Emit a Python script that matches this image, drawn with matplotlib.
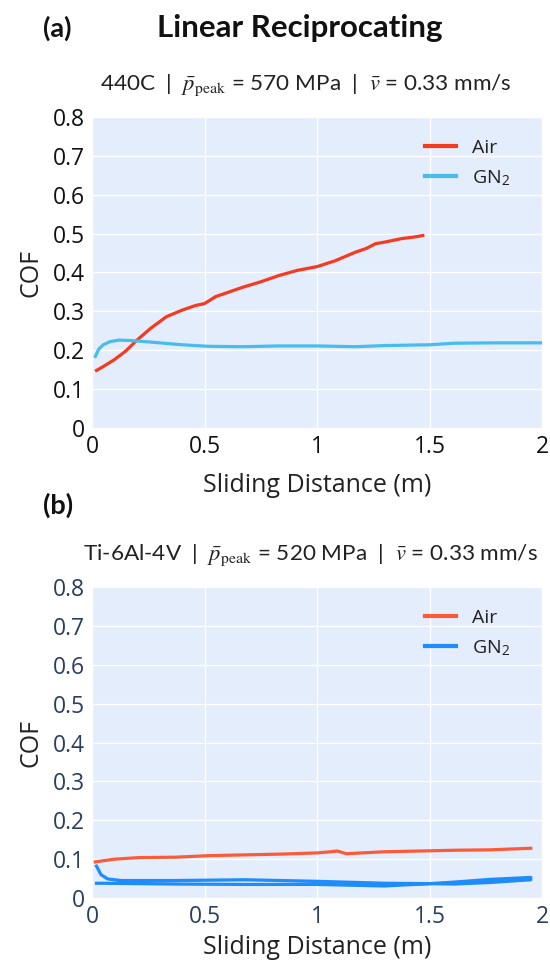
import matplotlib
matplotlib.use('Agg')
import matplotlib.pyplot as plt

plt.rcParams['font.family'] = ['Open Sans', 'DejaVu Sans']
plt.rcParams['mathtext.fontset'] = 'stix'

# ---- data ----
# (a) 440C
a_air_x = [0.02, 0.05, 0.10, 0.15, 0.20, 0.26, 0.33, 0.40, 0.46, 0.50, 0.55, 0.61, 0.67,
           0.75, 0.83, 0.91, 1.00, 1.08, 1.17, 1.22, 1.26, 1.30, 1.375, 1.43, 1.47]
a_air_y = [0.148, 0.158, 0.176, 0.198, 0.226, 0.256, 0.286, 0.303, 0.315, 0.320, 0.338, 0.350, 0.362,
           0.376, 0.392, 0.405, 0.415, 0.430, 0.452, 0.462, 0.474, 0.478, 0.487, 0.491, 0.495]
a_gn2_x = [0.015, 0.03, 0.05, 0.08, 0.12, 0.17, 0.28, 0.40, 0.52, 0.67, 0.83, 1.00, 1.17,
           1.30, 1.50, 1.61, 1.80, 2.00]
a_gn2_y = [0.184, 0.203, 0.214, 0.222, 0.226, 0.225, 0.220, 0.214, 0.210, 0.209, 0.211, 0.211, 0.209,
           0.212, 0.214, 0.218, 0.219, 0.219]

# (b) Ti-6Al-4V  (GN2 trace runs out to ~1.95 m and back)
b_air_x = [0.015, 0.10, 0.21, 0.37, 0.52, 0.68, 0.84, 1.00, 1.06, 1.09, 1.13, 1.30, 1.46,
           1.62, 1.77, 1.95]
b_air_y = [0.093, 0.100, 0.104, 0.105, 0.109, 0.111, 0.113, 0.116, 0.119, 0.121, 0.114, 0.119, 0.121,
           0.123, 0.124, 0.128]
b_gn2_x = [0.02, 0.04, 0.07, 0.13, 0.37, 0.68, 1.00, 1.30, 1.50, 1.61, 1.77, 1.95,
           1.95, 1.77, 1.61, 1.50, 1.30, 1.00, 0.68, 0.37, 0.05, 0.02]
b_gn2_y = [0.082, 0.060, 0.049, 0.045, 0.045, 0.047, 0.043, 0.038, 0.037, 0.041, 0.048, 0.053,
           0.047, 0.040, 0.036, 0.037, 0.031, 0.035, 0.035, 0.036, 0.038, 0.038]

x_ticks = [0, 0.5, 1, 1.5, 2]
x_tick_labels = ['0', '0.5', '1', '1.5', '2']
y_ticks = [0, 0.1, 0.2, 0.3, 0.4, 0.5, 0.6, 0.7, 0.8]
y_tick_labels = ['0', '0.1', '0.2', '0.3', '0.4', '0.5', '0.6', '0.7', '0.8']

panels = [
    dict(title=r'440C  |  $\bar{p}_{\mathrm{peak}}$ = 570 MPa  |  $\bar{v}$ = 0.33 mm/s',
         air=(a_air_x, a_air_y), gn2=(a_gn2_x, a_gn2_y),
         c_air='#f6391f', c_gn2='#47bdee', tick_color='#111111', rect=[0.1673, 0.5565, 0.8182, 0.3223],
         title_x=0.182, tag='(a)', tag_y=0.971, xpad=10),
    dict(title=r'Ti-6Al-4V  |  $\bar{p}_{\mathrm{peak}}$ = 520 MPa  |  $\bar{v}$ = 0.33 mm/s',
         air=(b_air_x, b_air_y), gn2=(b_gn2_x, b_gn2_y),
         c_air='#fc5b3a', c_gn2='#1e8cfb', tick_color='#2a3f5f', rect=[0.1673, 0.0694, 0.8182, 0.3223],
         title_x=0.151, tag='(b)', tag_y=0.476, xpad=4),
]

fig = plt.figure(figsize=(5.5, 9.65), dpi=100, facecolor='white')

for p in panels:
    ax = fig.add_axes(p['rect'])
    ax.set_facecolor('#e3edfb')
    ax.plot(*p['air'], color=p['c_air'], lw=2.3, label='Air', solid_joinstyle='round')
    ax.plot(*p['gn2'], color=p['c_gn2'], lw=2.3, label=r'GN$_\mathregular{2}$', solid_joinstyle='round')
    ax.set_xlim(0, 2)
    ax.set_ylim(0, 0.8)
    ax.set_xticks(x_ticks)
    ax.set_xticklabels(x_tick_labels)
    ax.set_yticks(y_ticks)
    ax.set_yticklabels(y_tick_labels)
    ax.grid(True, color='white', lw=1.0)
    ax.set_axisbelow(True)
    for s in ax.spines.values():
        s.set_visible(False)
    ax.tick_params(length=0, labelsize=16.5, colors=p['tick_color'], pad=5)
    ax.set_xlabel('Sliding Distance (m)', fontsize=18, color='#222222', labelpad=p['xpad'])
    ax.set_ylabel('COF', fontsize=18, color='#222222', labelpad=7)
    leg = ax.legend(loc='upper left', bbox_to_anchor=(0.718, 0.96), frameon=False, fontsize=14,
                    handlelength=1.6, handletextpad=0.85, labelspacing=0.55, borderpad=0,
                    labelcolor='#222222')
    for h in leg.get_lines():
        h.set_linewidth(3.0)
    top = p['rect'][1] + p['rect'][3]
    fig.text(p['title_x'], top + 0.033, p['title'], fontsize=16.2, color='#222222',
             ha='left', va='center', family=['Lato', 'DejaVu Sans'])
    fig.text(0.078, p['tag_y'], p['tag'], fontsize=19.5, fontweight='bold', color='#111111',
             ha='left', va='center', family=['Lato', 'DejaVu Sans'])

fig.text(0.5455, 0.971, 'Linear Reciprocating', fontsize=22.5, fontweight='bold', color='#111111',
         ha='center', va='center', family=['Lato', 'DejaVu Sans'])

fig.savefig('out.png', dpi=100, facecolor='white')
